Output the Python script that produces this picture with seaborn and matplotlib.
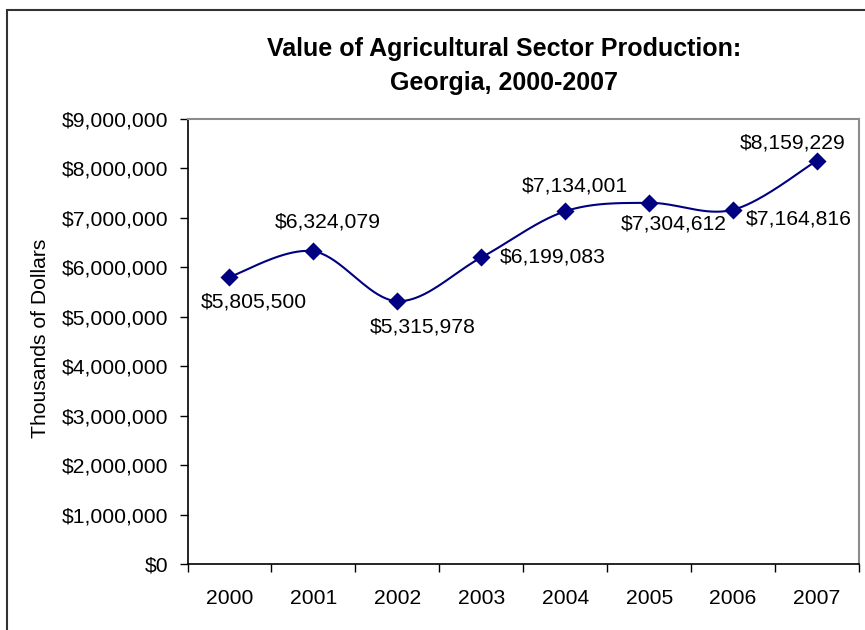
import numpy as np
import pandas as pd
import matplotlib
matplotlib.use("Agg")
import matplotlib.pyplot as plt
from matplotlib.patches import Rectangle
from matplotlib.ticker import FuncFormatter, FixedLocator
import seaborn as sns

# Value of agricultural sector production, thousands of dollars
years = ["2000", "2001", "2002", "2003", "2004", "2005", "2006", "2007"]
values = [5805500, 6324079, 5315978, 6199083, 7134001, 7304612, 7164816, 8159229]

# Label placement (pixel offsets from each marker, and alignment)
label_offsets = [(24, -25), (14, 29), (25, -26), (18, 0), (10, 25), (25, -21), (13, -9), (-24, 18)]
label_align = ["center", "center", "center", "left", "center", "center", "left", "center"]

sns.set_theme(style="white")
plt.rcParams["font.family"] = ["Liberation Sans", "DejaVu Sans"]
plt.rcParams["text.color"] = "black"
plt.rcParams["xtick.color"] = "black"
plt.rcParams["ytick.color"] = "black"

W, H, DPI = 865, 630, 100
FS = 15.2
fig = plt.figure(figsize=(W / DPI, H / DPI), dpi=DPI)
left, right, top, bottom = 187.5, 859, 119, 564
ax = fig.add_axes([left / W, 1 - bottom / H, (right - left) / W, (bottom - top) / H])

df = pd.DataFrame({"year": years, "value": values})
x = np.arange(len(years), dtype=float)
y = np.array(values, dtype=float)

# Smoothed curve through the points (Bezier segments, Catmull-Rom style)
pts = np.column_stack([x, y])
ext = np.vstack([pts[0], pts, pts[-1]])
t = np.linspace(0, 1, 40)[:, None]
curve = []
for i in range(len(pts) - 1):
    p0, p1, p2, p3 = ext[i], ext[i + 1], ext[i + 2], ext[i + 3]
    c1 = p1 + (p2 - p0) / 6
    c2 = p2 - (p3 - p1) / 6
    seg = ((1 - t) ** 3) * p1 + 3 * ((1 - t) ** 2) * t * c1 + 3 * (1 - t) * t ** 2 * c2 + t ** 3 * p2
    curve.append(seg if i == 0 else seg[1:])
curve = np.vstack(curve)
smooth = pd.DataFrame({"x": curve[:, 0], "y": curve[:, 1]})

navy = "#000080"
sns.lineplot(data=smooth, x="x", y="y", ax=ax, color=navy, linewidth=1.5, sort=False)
sns.scatterplot(x=x, y=df["value"], ax=ax, marker="D", s=85, color=navy,
                edgecolor=navy, linewidth=0, zorder=5)

for xi, v, (dx, dy), ha in zip(x, values, label_offsets, label_align):
    ax.annotate(f"${v:,.0f}", (xi, v), xytext=(dx, dy), textcoords="offset pixels",
                ha=ha, va="center", fontsize=FS, color="black")

ax.set_xlim(-0.5, len(years) - 0.5)
ax.set_ylim(0, 9000000)
ax.set_xlabel("")
ax.set_ylabel("")

ax.yaxis.set_major_locator(FixedLocator(np.arange(0, 9000001, 1000000)))
ax.yaxis.set_major_formatter(FuncFormatter(lambda v, p: f"${v:,.0f}"))
ax.set_xticks(x)
ax.set_xticklabels(years)
ax.set_xticks(np.arange(-0.5, len(years), 1.0), minor=True)

ax.tick_params(axis="y", which="major", direction="out", length=6, width=1,
               color="black", labelcolor="black", labelsize=FS, pad=8, left=True)
ax.tick_params(axis="x", which="major", length=0, labelsize=FS, labelcolor="black",
               pad=18, bottom=True)
ax.tick_params(axis="x", which="minor", direction="out", length=6, width=1,
               color="black", bottom=True)

for side in ["left", "bottom"]:
    ax.spines[side].set_color("black")
    ax.spines[side].set_linewidth(1.2)
for side in ["top", "right"]:
    ax.spines[side].set_color("#8c8c8c")
    ax.spines[side].set_linewidth(1.5)
ax.grid(False)

fig.text(504 / W, 1 - 56 / H, "Value of Agricultural Sector Production:",
         ha="center", va="baseline", fontsize=18, fontweight="bold")
fig.text(504 / W, 1 - 90 / H, "Georgia, 2000-2007",
         ha="center", va="baseline", fontsize=18, fontweight="bold")
fig.text(41 / W, 1 - 338 / H, "Thousands of Dollars", rotation=90,
         ha="center", va="center", fontsize=FS)

# Chart border
fig.patches.append(Rectangle((7 / W, -0.1), 1.2, 1 - 10 / H + 0.1, transform=fig.transFigure,
                             fill=False, edgecolor="#333333", linewidth=1.5))

fig.savefig("out.png", dpi=DPI, facecolor="white")
